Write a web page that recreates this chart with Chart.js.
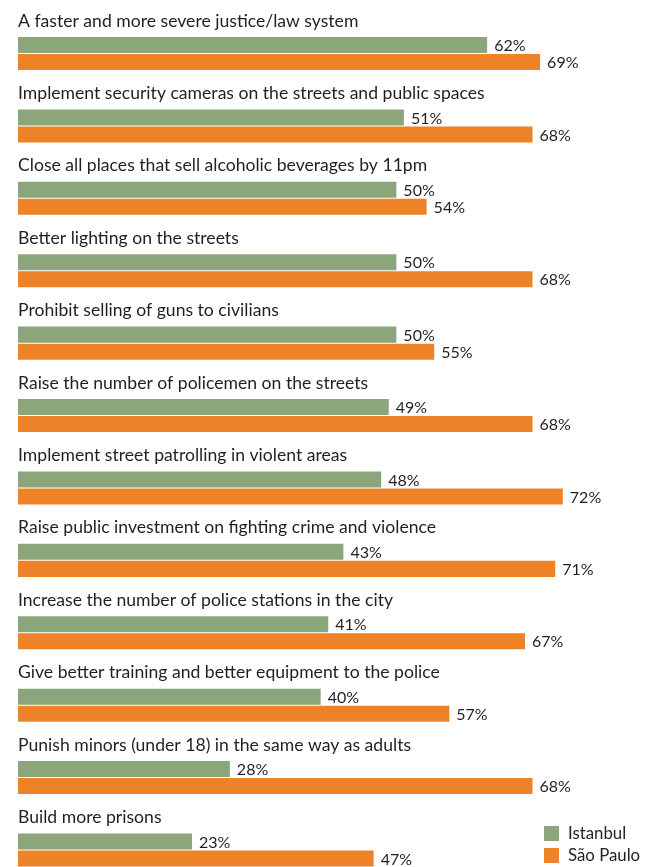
<!DOCTYPE html>
<html>
<head>
<meta charset="utf-8">
<script src="https://cdn.jsdelivr.net/npm/chart.js@4"></script>
<style>
	html, body { margin: 0; padding: 0; background: #fff; overflow: hidden; }
	#chart { display: block; }
</style>
</head>
<body>
<canvas id="chart" width="645" height="867"></canvas>
<script>
const categories = [
	'A faster and more severe justice/law system',
	'Implement security cameras on the streets and public spaces',
	'Close all places that sell alcoholic beverages by 11pm',
	'Better lighting on the streets',
	'Prohibit selling of guns to civilians',
	'Raise the number of policemen on the streets',
	'Implement street patrolling in violent areas',
	'Raise public investment on fighting crime and violence',
	'Increase the number of police stations in the city',
	'Give better training and better equipment to the police',
	'Punish minors (under 18) in the same way as adults',
	'Build more prisons'
];
const istanbul = [62, 51, 50, 50, 50, 49, 48, 43, 41, 40, 28, 23];
const saoPaulo = [69, 68, 54, 68, 55, 68, 72, 71, 67, 57, 68, 47];
const seriesNames = ['Istanbul', 'São Paulo'];
const colors = ['#8ba67b', '#ee8229'];

const FONT = 'Lato, "Open Sans", sans-serif';
const TEXT = '#231f20';

// category titles above each pair of bars + value labels after bars
const labelsPlugin = {
	id: 'labels',
	afterDatasetsDraw(chart) {
		const ctx = chart.ctx;
		const yScale = chart.scales.y;
		ctx.save();
		ctx.fillStyle = TEXT;
		ctx.textBaseline = 'alphabetic';
		ctx.textAlign = 'left';
		ctx.font = '17.6px ' + FONT;
		categories.forEach((c, i) => {
			const y = yScale.getPixelForValue(i);
			ctx.fillText(c, chart.chartArea.left, y - 27);
		});
		ctx.font = '16px ' + FONT;
		ctx.textBaseline = 'middle';
		chart.data.datasets.forEach((ds, di) => {
			const meta = chart.getDatasetMeta(di);
			meta.data.forEach((bar, i) => {
				ctx.fillText(ds.data[i] + '%', bar.x + 7, bar.y + 1);
			});
		});
		ctx.restore();
	}
};

const legendPlugin = {
	id: 'customLegend',
	afterDraw(chart) {
		const ctx = chart.ctx;
		ctx.save();
		ctx.font = '16.8px ' + FONT;
		ctx.textBaseline = 'middle';
		chart.data.datasets.forEach((ds, i) => {
			const y = 826 + i * 22;
			ctx.fillStyle = ds.backgroundColor;
			ctx.fillRect(544, y, 15, 15);
			ctx.fillStyle = TEXT;
			ctx.fillText(ds.label, 568, y + 8);
		});
		ctx.restore();
	}
};

new Chart(document.getElementById('chart').getContext('2d'), {
	type: 'bar',
	data: {
		labels: categories,
		datasets: [
			{ label: seriesNames[0], data: istanbul, backgroundColor: colors[0], clip: false },
			{ label: seriesNames[1], data: saoPaulo, backgroundColor: colors[1], clip: false }
		]
	},
	options: {
		indexAxis: 'y',
		responsive: false,
		animation: false,
		categoryPercentage: 0.47,
		barPercentage: 0.941,
		layout: { padding: { left: 18, right: 5, top: 53.5, bottom: 17 } },
		scales: {
			x: { display: false, min: 0, max: 82.2 },
			y: { display: false, offset: false }
		},
		plugins: {
			legend: { display: false },
			tooltip: { enabled: false }
		}
	},
	plugins: [labelsPlugin, legendPlugin]
});
</script>
</body>
</html>
